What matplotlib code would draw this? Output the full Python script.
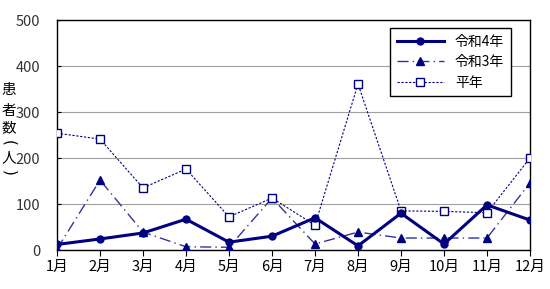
import matplotlib
matplotlib.use('Agg')
import matplotlib.pyplot as plt

plt.rcParams['font.family'] = ['Noto Sans CJK JP', 'DejaVu Sans']

months = ['1月', '2月', '3月', '4月', '5月', '6月', '7月', '8月', '9月', '10月', '11月', '12月']
r4 = [12, 24, 37, 67, 17, 30, 70, 9, 80, 13, 98, 65]
r3 = [2, 152, 39, 7, 6, 113, 13, 39, 26, 26, 26, 146]
normal = [254, 241, 135, 176, 72, 113, 54, 361, 85, 84, 81, 200]
ylabel_chars = ['患', '者', '数', '(', '人', ')']

navy = '#000080'

fig = plt.figure(figsize=(5.5, 2.89), dpi=100)
ax = fig.add_axes([57 / 550, 1 - 250 / 289, 473 / 550, 230 / 289])

x = range(len(months))
ax.plot(x, r4, color=navy, lw=2.2, marker='o', ms=5, label='令和4年', zorder=4)
ax.plot(x, r3, color='#3333a0', lw=1, ls=(0, (8, 3, 1, 3)), marker='^', ms=6,
        mfc=navy, mec=navy, label='令和3年', zorder=3)
ax.plot(x, normal, color=navy, lw=0.8, ls=(0, (2, 1.5)), marker='s', ms=6,
        mfc='white', mec=navy, mew=1, label='平年', zorder=3)

ax.set_xlim(0, 11)
ax.set_ylim(0, 500)
ax.set_yticks(range(0, 501, 100))
ax.set_xticks(list(x))
ax.set_xticklabels(months)
ax.tick_params(axis='both', labelsize=10.5, length=4, colors='black')
ax.tick_params(axis='y', direction='in', length=3, pad=12, labelcolor='#333333')
ax.yaxis.grid(True, color='#a0a0a0', lw=0.8)
ax.set_axisbelow(True)
for s in ax.spines.values():
    s.set_color('black')
    s.set_linewidth(1)

# vertical y label, one character per line (brackets turned for vertical writing)
ypos = [90, 111, 128, 143, 158, 173]
for ch, yp in zip(ylabel_chars, ypos):
    if ch in '()':
        fig.text(9 / 550, 1 - yp / 289, ch, ha='center', va='center', fontsize=11,
                 rotation=-90, family='DejaVu Sans')
    else:
        fig.text(9 / 550, 1 - yp / 289, ch, ha='center', va='center', fontsize=10.5)

leg = ax.legend(loc='upper right', bbox_to_anchor=(0.975, 0.995), fontsize=10,
                fancybox=False, framealpha=1, edgecolor='black', handlelength=3.4,
                borderpad=0.5, labelspacing=0.45)
leg.get_frame().set_linewidth(1)

fig.savefig('out.png', dpi=100)
